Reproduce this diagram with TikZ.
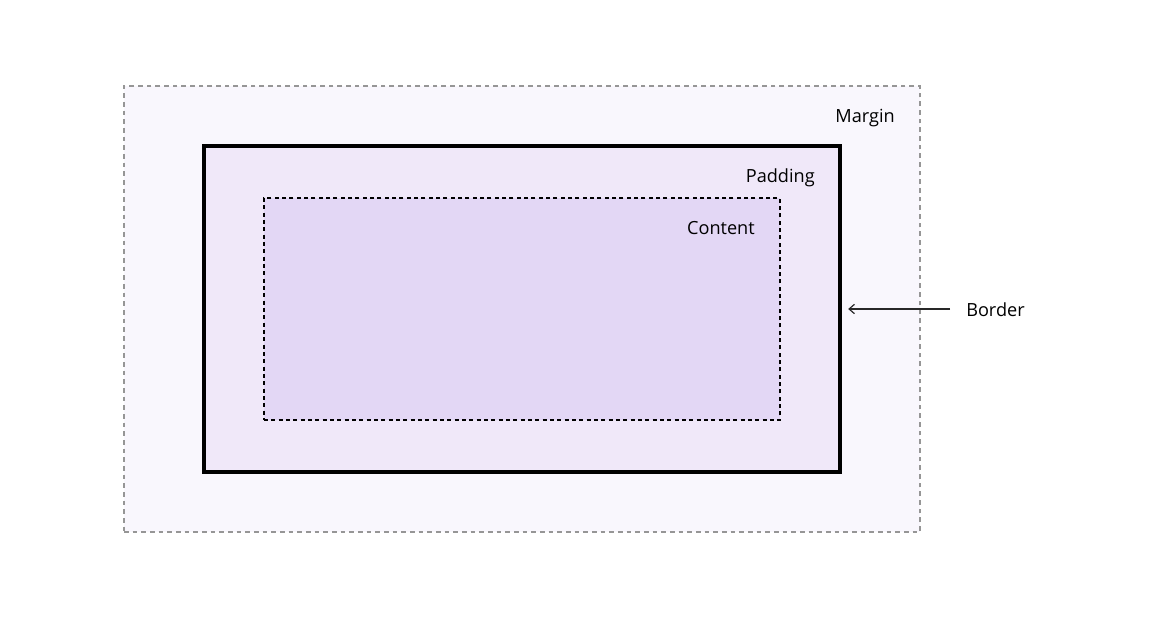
\documentclass[tikz,border=0pt]{standalone}
\usepackage{fontspec}
\setmainfont{Open Sans}
\usetikzlibrary{arrows.meta}
\definecolor{marginfill}{RGB}{249,247,253}
\definecolor{paddingfill}{RGB}{240,232,249}
\definecolor{contentfill}{RGB}{227,215,245}
\definecolor{margindraw}{RGB}{150,150,150}
\definecolor{arrowdraw}{RGB}{40,40,40}
\tikzset{>={Straight Barb[length=4pt,width=7pt]}}
\tikzset{
  boxlabel/.style={anchor=base east, inner sep=0pt, font=\fontsize{13.6}{16}\selectfont},
  marginbox/.style={draw=margindraw, fill=marginfill, line width=1.1pt, dash pattern=on 3.5pt off 3pt},
  borderbox/.style={draw=black, fill=paddingfill, line width=2.3pt},
  contentbox/.style={draw=black, fill=contentfill, line width=1.1pt, dash pattern=on 3pt off 2.5pt},
}

\begin{document}
\begin{tikzpicture}[x=0.75pt, y=-0.75pt]
    \fill[white] (0,0) rectangle (1149,620);
    \useasboundingbox (0,0) rectangle (1149,620);
    \node[marginbox, minimum width=597pt, minimum height=334.5pt] (margin) at (522,309) {};
    \node[borderbox, minimum width=477pt, minimum height=244.5pt] (border) at (522,309) {};
    \node[contentbox, minimum width=387pt, minimum height=166.5pt] (content) at (522,309) {};
    % labels
    \node[boxlabel] (mlabel) at (895,122.5) {Margin};
    \node[boxlabel] (plabel) at (815,182.5) {Padding};
    \node[boxlabel] (clabel) at (755,234.5) {Content};
    \node[boxlabel, anchor=base west] (blabel) at (966,316.5) {Border};
    \draw[->, arrowdraw, line width=0.9pt, shorten <=12pt, shorten >=5pt] (blabel.west |- border.east) -- (border.east);
\end{tikzpicture}
\end{document}
